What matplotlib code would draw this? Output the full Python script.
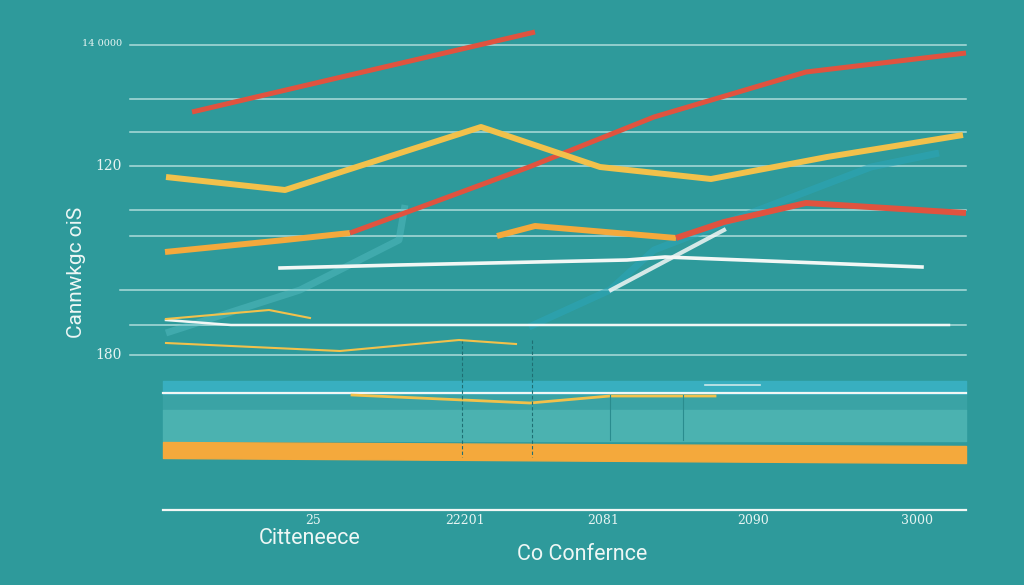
import numpy as np
import matplotlib.pyplot as plt

# values (chart units, y grows downward like the image)
grid_y = [45, 99, 132, 166, 210, 236, 290, 325, 355]
grid_x0 = [130, 130, 130, 130, 130, 130, 120, 130, 130]

red_top_x = [192, 350, 535]
red_top_y = [112, 75, 32]

red_long_x = [165, 285, 350, 421, 529, 654, 806, 966]
red_long_y = [252, 240, 233, 207, 167, 117, 72, 53]

yellow_x = [166, 285, 481, 600, 711, 827, 963]
yellow_y = [177, 190, 127, 167, 179, 157, 135]

orange_low_x = [497, 535, 676, 724, 806, 966]
orange_low_y = [236, 226, 238, 222, 203, 213]

teal_a_x = [166, 300, 399, 405]
teal_a_y = [333, 290, 240, 205]
teal_b_x = [529, 610, 654, 871, 939]
teal_b_y = [327, 290, 250, 167, 153]

white_x = [280, 399, 627, 665, 922]
white_y = [268, 265, 260, 257, 267]
white_diag_x = [611, 724]
white_diag_y = [290, 230]

white_mid_x = [166, 231, 949]
white_mid_y = [320, 325, 325]

thin_y1_x = [166, 269, 310]
thin_y1_y = [319, 310, 318]
thin_y2_x = [166, 340, 459, 516]
thin_y2_y = [343, 351, 340, 344]

band_yellow_x = [352, 530, 610, 715]
band_yellow_y = [395, 403, 396, 396]

orange_band_x = [163, 966]
orange_band_top = [442, 446]
orange_band_bot = [458, 463]

y_ticks = [(44, '14 0000', 7), (166, '120', 10), (355, '180', 10)]
x_ticks = [(313, '25'), (465, '22201'), (603, '2081'), (753, '2090'), (917, '3000')]

bg = '#2E9A9B'
red = '#E0533F'
yellow = '#F2C14B'
orange = '#F4A93C'
white = '#F2F7F5'

fig = plt.figure(figsize=(10.24, 5.85), dpi=100, facecolor=bg)
ax = fig.add_axes([0, 0, 1, 1])
ax.set_facecolor(bg)
ax.set_xlim(0, 1024)
ax.set_ylim(585, 0)
ax.axis('off')

# grid lines
for gy, gx in zip(grid_y, grid_x0):
    ax.plot([gx, 966], [gy, gy], color='#CDEDEA', lw=1.1, alpha=0.8, zorder=1)

# bottom bands
ax.fill_between([163, 966], 381, 394, color='#38AFC0', zorder=1)
ax.fill_between([163, 966], 395, 410, color='#3AA3A5', zorder=1)
ax.fill_between([163, 966], 410, 441, color='#4BB2B0', zorder=1)
ax.fill_between(orange_band_x, orange_band_top, orange_band_bot, color=orange, zorder=2)
ax.plot([163, 966], [393, 393], color=white, lw=1.6, zorder=3)
ax.plot([705, 760], [385, 385], color=white, lw=1.2, alpha=0.8, zorder=3)
ax.plot(band_yellow_x, band_yellow_y, color=yellow, lw=2, zorder=3)
for vx in [462, 532]:
    ax.plot([vx, vx], [340, 457], color='#1E6F73', lw=0.8, ls=(0, (3, 2)), zorder=3)
for vx in [610, 683]:
    ax.plot([vx, vx], [395, 440], color='#2A8C8E', lw=0.8, zorder=3)

# translucent teal diagonals
ax.plot(teal_a_x, teal_a_y, color='#5CC3C9', lw=5, alpha=0.4, solid_capstyle='butt', zorder=2)
ax.plot(teal_b_x, teal_b_y, color='#2BA6BA', lw=5, alpha=0.55, solid_capstyle='butt', zorder=2)

# white lines
ax.plot(white_mid_x, white_mid_y, color=white, lw=1.8, zorder=4)
ax.plot(white_x, white_y, color=white, lw=2.6, zorder=4)
ax.plot(white_diag_x, white_diag_y, color=white, lw=3, alpha=0.85, zorder=4)

# thin yellow lines
ax.plot(thin_y1_x, thin_y1_y, color=yellow, lw=1.5, zorder=4)
ax.plot(thin_y2_x, thin_y2_y, color=yellow, lw=1.5, zorder=4)

# main series
ax.plot(red_top_x, red_top_y, color=red, lw=3.6, solid_capstyle='butt', zorder=5)
ax.plot(red_long_x[:3], red_long_y[:3], color=orange, lw=4.3, solid_capstyle='butt', zorder=5)
ax.plot(red_long_x[2:], red_long_y[2:], color=red, lw=3.6, solid_capstyle='butt', zorder=5)
ax.plot(yellow_x, yellow_y, color=yellow, lw=4.3, solid_capstyle='butt', zorder=6)
ax.plot(orange_low_x[:3], orange_low_y[:3], color=orange, lw=4.3, solid_capstyle='butt', zorder=5)
ax.plot(orange_low_x[2:], orange_low_y[2:], color=red, lw=4.3, solid_capstyle='butt', zorder=5)

# baseline
ax.plot([163, 966], [510, 510], color=white, lw=1.6, zorder=4)

font = ['Roboto', 'DejaVu Sans']
for ty, lab, fs in y_ticks:
    ax.text(122, ty, lab, color='#E6F4F2', fontsize=fs, ha='right', va='center',
            family=['DejaVu Serif'])
for tx, lab in x_ticks:
    ax.text(tx, 521, lab, color='#E6F4F2', fontsize=9, ha='center', va='center',
            family=['DejaVu Serif'])

ax.text(76, 272, 'Cannwkgc oiS', color='#EEF7F5', fontsize=15, rotation=90,
        ha='center', va='center', family=font)
ax.text(310, 539, 'Citteneece', color='#EEF7F5', fontsize=15.5, ha='center', va='center', family=font)
ax.text(582, 555, 'Co Confernce', color='#EEF7F5', fontsize=15.5, ha='center', va='center', family=font)

fig.savefig('out.png', dpi=100, facecolor=bg)
